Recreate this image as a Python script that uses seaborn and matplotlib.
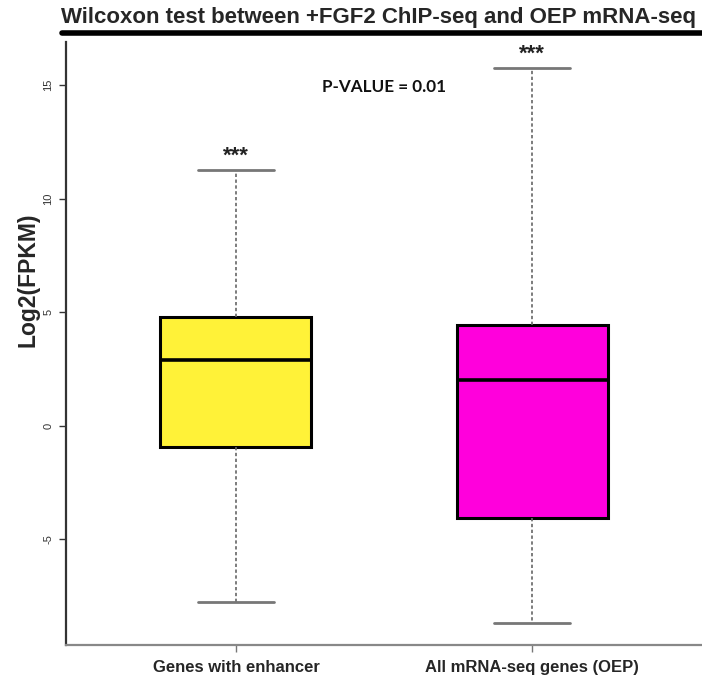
import matplotlib
matplotlib.use("Agg")
import matplotlib.pyplot as plt
from matplotlib.lines import Line2D
import seaborn as sns
import pandas as pd

# five-number summaries (min, Q1, median, Q3, max)
categories = ["Genes with enhancer", "All mRNA-seq genes (OEP)"]
enhancer_vals = [-7.75, -0.95, 2.91, 4.79, 11.28]
oep_vals = [-8.66, -4.07, 2.00, 4.43, 15.77]
box_colors = ["#FFF238", "#FF00DC"]
yticks = [-5, 0, 5, 10, 15]
title = "Wilcoxon test between +FGF2 ChIP-seq and OEP mRNA-seq"
pvalue_text = "P-VALUE = 0.01"
signif = ["***", "***"]

df = pd.DataFrame({
    "group": [categories[0]] * len(enhancer_vals) + [categories[1]] * len(oep_vals),
    "value": enhancer_vals + oep_vals,
})

sns.set_style("white")
plt.rcParams["font.family"] = ["Liberation Sans", "DejaVu Sans"]

fig = plt.figure(figsize=(7.02, 6.86), dpi=100)
ax = fig.add_axes([66 / 702, 41 / 686, 1 - 66 / 702, (645 - 42) / 686])

sns.boxplot(
    data=df, x="group", y="value", hue="group", order=categories,
    hue_order=categories, palette=box_colors, saturation=1, legend=False, ax=ax,
    width=0.51, whis=(0, 100), showfliers=False,
    boxprops=dict(edgecolor="black", linewidth=2.2),
    medianprops=dict(color="black", linewidth=2.6),
    whiskerprops=dict(color="#666666", linewidth=1.2, linestyle=(0, (2, 1.5))),
    capprops=dict(color="#777777", linewidth=2.0),
)

ax.set_xlim(-0.574, 1.574)
ax.set_ylim(-9.65, 16.9)
ax.set_yticks(yticks)
ax.set_yticklabels([str(t) for t in yticks], rotation=90, va="center",
                   fontsize=8, color="#333333")
ax.tick_params(axis="y", length=5, width=1, color="#333333", pad=4, left=True)
ax.tick_params(axis="x", length=5, width=1, color="#777777", pad=6, bottom=True)
for lbl in ax.get_xticklabels():
    lbl.set_fontweight("bold")
    lbl.set_fontsize(12)
ax.set_xlabel("")
ax.set_ylabel("")

for s in ["top", "right"]:
    ax.spines[s].set_visible(False)
ax.spines["left"].set_color("#333333")
ax.spines["left"].set_linewidth(1.6)
ax.spines["bottom"].set_color("#888888")
ax.spines["bottom"].set_linewidth(1.6)

# significance stars above whisker caps
tops = [max(enhancer_vals), max(oep_vals)]
for i, (t, s) in enumerate(zip(tops, signif)):
    ax.text(i, t + 0.12, s, ha="center", va="bottom", fontsize=16,
            fontweight="bold", color="#222222")

ax.text(0.5, 14.9, pvalue_text, ha="center", va="center", fontsize=12.3,
        fontweight="bold", family=["Lato", "DejaVu Sans"], color="#111111")

fig.text(28 / 702, 1 - 280 / 686, "Log2(FPKM)", rotation=90, ha="center",
         va="center", fontsize=16.5, fontweight="bold")

fig.text(61 / 702, 1 - 17 / 686, title, ha="left", va="center",
         fontsize=16, fontweight="bold")
fig.add_artist(Line2D([62 / 702, 1.0], [1 - 33 / 686, 1 - 33 / 686],
                      color="black", linewidth=4, transform=fig.transFigure))

fig.savefig("out.png", dpi=100)
